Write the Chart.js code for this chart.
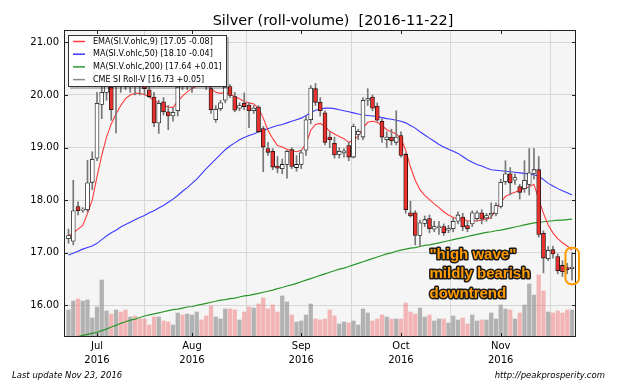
<!DOCTYPE html>
<html>
<head>
<meta charset="utf-8">
<script src="https://cdn.jsdelivr.net/npm/chart.js@4"></script>
<style>
  html, body { margin: 0; padding: 0; background: #fff; }
</style>
</head>
<body>
<canvas id="silverChart" width="640" height="384"></canvas>
<script>
// trading days shown on the chart
const dates = [
  '2016-06-23','2016-06-24','2016-06-27','2016-06-28','2016-06-29','2016-06-30',
  '2016-07-01','2016-07-05','2016-07-06','2016-07-07','2016-07-08','2016-07-11','2016-07-12','2016-07-13','2016-07-14','2016-07-15',
  '2016-07-18','2016-07-19','2016-07-20','2016-07-21','2016-07-22','2016-07-25','2016-07-26','2016-07-27','2016-07-28','2016-07-29',
  '2016-08-01','2016-08-02','2016-08-03','2016-08-04','2016-08-05','2016-08-08','2016-08-09','2016-08-10','2016-08-11','2016-08-12',
  '2016-08-15','2016-08-16','2016-08-17','2016-08-18','2016-08-19','2016-08-22','2016-08-23','2016-08-24','2016-08-25','2016-08-26',
  '2016-08-29','2016-08-30','2016-08-31',
  '2016-09-01','2016-09-02','2016-09-06','2016-09-07','2016-09-08','2016-09-09','2016-09-12','2016-09-13','2016-09-14','2016-09-15',
  '2016-09-16','2016-09-19','2016-09-20','2016-09-21','2016-09-22','2016-09-23','2016-09-26','2016-09-27','2016-09-28','2016-09-29','2016-09-30',
  '2016-10-03','2016-10-04','2016-10-05','2016-10-06','2016-10-07','2016-10-10','2016-10-11','2016-10-12','2016-10-13','2016-10-14',
  '2016-10-17','2016-10-18','2016-10-19','2016-10-20','2016-10-21','2016-10-24','2016-10-25','2016-10-26','2016-10-27','2016-10-28','2016-10-31',
  '2016-11-01','2016-11-02','2016-11-03','2016-11-04','2016-11-07','2016-11-08','2016-11-09','2016-11-10','2016-11-11',
  '2016-11-14','2016-11-15','2016-11-16','2016-11-17','2016-11-18','2016-11-21','2016-11-22'
];

const opens = [
  17.27, 17.22, 17.88, 17.81, 17.82, 18.34, 18.80, 19.82, 20.05, 20.15,
  20.20, 20.60, 20.55, 20.20, 20.40, 20.30, 20.20, 20.10, 19.96, 19.47,
  19.87, 19.68, 19.60, 19.70, 20.30, 20.25, 20.50, 20.60, 20.75, 20.50,
  20.12, 19.53, 19.74, 19.90, 20.16, 19.97, 19.75, 19.84, 19.81, 19.70,
  19.77, 19.36, 18.98, 18.93, 18.65, 18.60, 18.68, 18.96, 18.62, 18.68,
  18.95, 19.53, 20.12, 19.86, 19.66, 19.20, 19.08, 18.87, 18.90, 19.04,
  18.82, 19.25, 19.20, 19.90, 19.96, 19.79, 19.50, 19.15, 19.20, 19.10,
  19.23, 18.87, 17.76, 17.76, 17.33, 17.56, 17.65, 17.45, 17.48, 17.50,
  17.43, 17.46, 17.60, 17.68, 17.52, 17.55, 17.65, 17.76, 17.66, 17.72,
  17.75, 17.88, 18.35, 18.50, 18.38, 18.26, 18.22, 18.30, 18.51, 18.58,
  17.37, 16.89, 17.06, 16.93, 16.76, 16.72, 16.70
];
const highs = [
  17.45, 18.38, 17.97, 17.86, 18.76, 18.92, 20.05, 20.90, 20.55, 20.30,
  20.50, 20.75, 20.70, 20.45, 20.50, 20.35, 20.28, 20.15, 20.05, 19.90,
  19.95, 19.80, 19.75, 20.30, 20.50, 20.60, 20.70, 20.85, 20.80, 20.55,
  20.25, 19.80, 19.90, 20.30, 20.20, 20.05, 19.85, 20.04, 19.85, 19.80,
  19.80, 19.40, 19.10, 18.98, 18.83, 18.78, 18.95, 19.00, 18.85, 18.95,
  19.60, 20.18, 20.22, 19.95, 19.70, 19.30, 19.20, 19.00, 18.98, 19.10,
  19.45, 19.35, 19.95, 20.12, 20.00, 19.85, 19.55, 19.30, 19.35, 19.70,
  19.30, 18.90, 17.98, 17.80, 17.62, 17.70, 17.72, 17.60, 17.60, 17.55,
  17.52, 17.66, 17.78, 17.75, 17.60, 17.80, 17.80, 17.82, 17.75, 17.95,
  17.95, 18.40, 18.75, 18.62, 18.50, 18.30, 18.75, 18.98, 18.98, 18.83,
  17.42, 17.12, 17.13, 16.98, 16.85, 16.80, 17.00
];
const lows = [
  17.18, 17.15, 17.72, 17.77, 17.78, 18.20, 18.75, 19.55, 19.90, 19.52,
  19.28, 20.05, 20.10, 20.05, 20.00, 20.00, 20.00, 19.95, 19.40, 19.27,
  19.62, 19.34, 19.50, 19.60, 20.10, 20.10, 20.05, 20.30, 20.30, 20.10,
  19.65, 19.48, 19.70, 19.85, 19.95, 19.68, 19.70, 19.72, 19.38, 19.65,
  19.28, 18.54, 18.85, 18.58, 18.52, 18.50, 18.42, 18.60, 18.55, 18.60,
  18.85, 19.45, 19.80, 19.60, 19.05, 19.00, 18.80, 18.80, 18.82, 18.75,
  18.80, 19.15, 19.15, 19.80, 19.70, 19.50, 19.10, 19.00, 19.05, 19.05,
  18.82, 17.75, 17.68, 17.15, 17.12, 17.50, 17.38, 17.40, 17.35, 17.33,
  17.38, 17.40, 17.55, 17.42, 17.40, 17.50, 17.60, 17.55, 17.60, 17.65,
  17.70, 17.85, 18.30, 18.10, 18.30, 18.02, 18.15, 18.10, 18.40, 17.30,
  16.62, 16.85, 16.90, 16.60, 16.55, 16.60, 16.48
];
const closes = [
  17.33, 17.80, 17.80, 17.83, 18.33, 18.78, 19.84, 20.05, 20.45, 19.72,
  20.35, 20.40, 20.30, 20.35, 20.20, 20.18, 20.12, 19.97, 19.47, 19.84,
  19.68, 19.60, 19.67, 20.15, 20.25, 20.50, 20.60, 20.75, 20.50, 20.20,
  19.72, 19.73, 19.85, 20.15, 19.99, 19.71, 19.80, 19.78, 19.70, 19.75,
  19.30, 19.01, 18.91, 18.63, 18.61, 18.68, 18.93, 18.64, 18.68, 18.90,
  19.53, 20.13, 19.86, 19.70, 19.10, 19.15, 18.86, 18.93, 18.94, 18.82,
  19.40, 19.31, 19.90, 19.93, 19.75, 19.52, 19.20, 19.20, 19.13, 19.20,
  18.85, 17.82, 17.70, 17.33, 17.57, 17.63, 17.46, 17.50, 17.49, 17.38,
  17.46, 17.60, 17.72, 17.49, 17.46, 17.76, 17.76, 17.64, 17.71, 17.75,
  17.90, 18.34, 18.50, 18.33, 18.43, 18.15, 18.38, 18.52, 18.58, 17.35,
  16.90, 17.05, 16.98, 16.66, 16.64, 16.68, 16.73
];
// roll volume, thousands of contracts (relative)
const volumes = [
  27, 36, 38, 36, 37, 19, 30, 57, 26, 23,
  27, 25, 27, 20, 21, 18, 18, 12, 20, 20,
  16, 15, 12, 24, 22, 23, 22, 25, 17, 21,
  31, 20, 18, 28, 28, 27, 17, 25, 30, 29,
  33, 39, 28, 32, 25, 41, 35, 22, 15, 16,
  22, 33, 18, 17, 18, 27, 21, 13, 15, 14,
  16, 12, 28, 24, 16, 18, 22, 20, 18, 18,
  18, 34, 25, 23, 29, 20, 22, 16, 18, 18,
  14, 21, 17, 19, 13, 22, 16, 17, 17, 24,
  18, 32, 28, 27, 18, 24, 32, 53, 42, 62,
  46, 25, 24, 26, 24, 27, 27
];
const ema9 = [
  17.32, 17.38, 17.45, 17.52, 17.75, 18.00, 18.45, 18.85, 19.20, 19.45,
  19.64, 19.80, 19.93, 20.00, 20.03, 20.03, 20.01, 19.96, 19.90, 19.85,
  19.80, 19.77, 19.76, 19.88, 19.98, 20.06, 20.12, 20.17, 20.20, 20.20,
  20.12, 20.05, 20.03, 20.05, 20.01, 19.97, 19.93, 19.87, 19.85, 19.83,
  19.75, 19.56, 19.33, 19.17, 19.04, 19.01, 18.97, 18.94, 18.92, 18.95,
  19.07, 19.33, 19.44, 19.46, 19.40, 19.31, 19.26, 19.21, 19.17, 19.10,
  19.14, 19.22, 19.37, 19.48, 19.50, 19.48, 19.42, 19.34, 19.30, 19.26,
  19.17, 18.95, 18.63, 18.38, 18.20, 18.09, 18.01, 17.93, 17.86, 17.78,
  17.72, 17.67, 17.65, 17.64, 17.61, 17.60, 17.61, 17.62, 17.64, 17.67,
  17.84, 17.96, 18.07, 18.12, 18.15, 18.19, 18.22, 18.26, 18.30, 18.02,
  17.75, 17.53, 17.38, 17.27, 17.19, 17.13, 17.05
];
const ma50 = [
  16.96, 16.99, 17.03, 17.07, 17.10, 17.13, 17.18, 17.25, 17.32, 17.38,
  17.43, 17.49, 17.54, 17.58, 17.63, 17.67, 17.71, 17.76, 17.80, 17.85,
  17.90, 17.96, 18.02, 18.09, 18.17, 18.24, 18.32, 18.40, 18.50, 18.60,
  18.69, 18.78, 18.87, 18.96, 19.03, 19.09, 19.15, 19.19, 19.23, 19.26,
  19.30, 19.33, 19.36, 19.39, 19.42, 19.44, 19.47, 19.50, 19.53, 19.56,
  19.61, 19.66, 19.71, 19.73, 19.75, 19.75, 19.74, 19.72, 19.70, 19.68,
  19.66, 19.64, 19.62, 19.61, 19.60, 19.59, 19.57, 19.55, 19.54, 19.52,
  19.50, 19.47, 19.42, 19.37, 19.30, 19.24, 19.18, 19.12, 19.06, 19.01,
  18.97, 18.93, 18.89, 18.83, 18.77, 18.72, 18.68, 18.65, 18.61, 18.58,
  18.57, 18.56, 18.55, 18.54, 18.53, 18.52, 18.51, 18.50, 18.48, 18.46,
  18.39, 18.32, 18.27, 18.22, 18.18, 18.14, 18.10
];
const ma200 = [
  15.37, 15.39, 15.41, 15.43, 15.45, 15.47, 15.49, 15.52, 15.55, 15.59,
  15.62, 15.66, 15.69, 15.72, 15.74, 15.77, 15.80, 15.82, 15.84, 15.86,
  15.88, 15.90, 15.92, 15.93, 15.95, 15.97, 15.98, 16.00, 16.02, 16.04,
  16.06, 16.08, 16.10, 16.11, 16.13, 16.14, 16.16, 16.18, 16.19, 16.21,
  16.23, 16.25, 16.27, 16.29, 16.32, 16.34, 16.37, 16.39, 16.42, 16.45,
  16.48, 16.51, 16.54, 16.57, 16.60, 16.63, 16.66, 16.69, 16.71, 16.74,
  16.77, 16.80, 16.83, 16.86, 16.89, 16.92, 16.95, 16.98, 17.00, 17.03,
  17.05, 17.07, 17.09, 17.10, 17.12, 17.14, 17.15, 17.17, 17.19, 17.21,
  17.23, 17.25, 17.27, 17.29, 17.31, 17.33, 17.35, 17.37, 17.39, 17.40,
  17.42, 17.43, 17.45, 17.47, 17.49, 17.51, 17.53, 17.55, 17.57, 17.58,
  17.59, 17.60, 17.61, 17.62, 17.62, 17.63, 17.64
];

const priceTicks = [16, 17, 18, 19, 20, 21];
const monthNames = ['Jan','Feb','Mar','Apr','May','Jun','Jul','Aug','Sep','Oct','Nov','Dec'];
const legendLabels = [
  'EMA(SI.V.ohlc,9) [17.05 -0.08]',
  'MA(SI.V.ohlc,50) [18.10 -0.04]',
  'MA(SI.V.ohlc,200) [17.64 +0.01]',
  'CME SI Roll-V [16.73 +0.05]'
];
const chartTitle = 'Silver (roll-volume)  [2016-11-22]';
const noteLines = ['"high wave"', 'mildly bearish', 'downtrend'];
const footerLeft = 'Last update Nov 23, 2016';
const footerRight = 'http://peakprosperity.com';

// first trading day of every month becomes an x tick
const monthStarts = dates
  .map((d, i) => i)
  .filter(i => i > 0 && dates[i].slice(5, 7) !== dates[i - 1].slice(5, 7));

const colors = {
  ema: '#ff3a3a',
  ma50: '#3a3aff',
  ma200: '#2a962a',
  candle: '#8a8a8a',
  down: '#e8302c',
  up: '#ffffff',
  volUp: 'rgba(150,150,150,0.7)',
  volDown: 'rgba(240,120,120,0.52)',
  grid: '#d6d6d6',
  note: '#ff9a00'
};

const xs = dates.map((d, i) => i);
const isDown = xs.map(i => closes[i] < opens[i]);

const decor = {
  id: 'decor',
  beforeDraw(chart) {
    const { ctx, chartArea: a } = chart;
    ctx.save();
    ctx.fillStyle = '#ffffff';
    ctx.fillRect(0, 0, chart.width, chart.height);
    ctx.fillStyle = '#f5f5f5';
    ctx.fillRect(a.left, a.top, a.right - a.left, a.bottom - a.top);
    ctx.restore();
  },
  afterDraw(chart) {
    const { ctx, chartArea: a, scales } = chart;
    ctx.save();

    // frame + inward ticks
    ctx.strokeStyle = '#222';
    ctx.lineWidth = 1;
    ctx.strokeRect(a.left + 0.5, a.top + 0.5, a.right - a.left - 1, a.bottom - a.top - 1);
    ctx.beginPath();
    priceTicks.forEach(v => {
      const py = Math.round(scales.y.getPixelForValue(v)) + 0.5;
      ctx.moveTo(a.left, py); ctx.lineTo(a.left + 4, py);
      ctx.moveTo(a.right - 4, py); ctx.lineTo(a.right, py);
    });
    monthStarts.forEach(v => {
      const px = Math.round(scales.x.getPixelForValue(v)) + 0.5;
      ctx.moveTo(px, a.bottom); ctx.lineTo(px, a.bottom - 4);
      ctx.moveTo(px, a.top); ctx.lineTo(px, a.top + 4);
    });
    ctx.stroke();

    // title
    ctx.fillStyle = '#000';
    ctx.font = '14.4px "DejaVu Sans"';
    ctx.textAlign = 'center';
    ctx.textBaseline = 'alphabetic';
    ctx.fillText(chartTitle, 333, 25);

    // legend box
    const lx = 68, ly = 35, lw = 159, lh = 52;
    ctx.fillStyle = 'rgba(0,0,0,0.25)';
    ctx.fillRect(lx + 2, ly + 2, lw, lh);
    ctx.fillStyle = '#fff';
    ctx.fillRect(lx, ly, lw, lh);
    ctx.strokeStyle = '#333';
    ctx.strokeRect(lx + 0.5, ly + 0.5, lw - 1, lh - 1);
    const legendColors = [colors.ema, colors.ma50, colors.ma200, colors.candle];
    ctx.font = '8px "DejaVu Sans"';
    ctx.textAlign = 'left';
    ctx.textBaseline = 'middle';
    legendLabels.forEach((t, k) => {
      const ry = ly + 6.5 + k * 12.7;
      ctx.strokeStyle = legendColors[k];
      ctx.lineWidth = 1.5;
      ctx.beginPath();
      ctx.moveTo(lx + 5, ry); ctx.lineTo(lx + 17, ry);
      ctx.stroke();
      ctx.fillStyle = '#000';
      ctx.fillText(t, lx + 25, ry);
    });

    // annotation
    ctx.font = 'bold 15px "Liberation Sans", Arial, sans-serif';
    ctx.textBaseline = 'alphabetic';
    ctx.lineJoin = 'round';
    const baselines = [258.5, 278, 297.5];
    noteLines.forEach((t, k) => {
      ctx.strokeStyle = '#1a1a1a';
      ctx.lineWidth = 3;
      ctx.strokeText(t, 429.5, baselines[k]);
      ctx.fillStyle = colors.note;
      ctx.fillText(t, 429.5, baselines[k]);
    });
    const last = xs.length - 1;
    const cx = scales.x.getPixelForValue(last);
    const top = scales.y.getPixelForValue(highs[last]) - 5;
    const bot = scales.y.getPixelForValue(lows[last]) + 4;
    ctx.strokeStyle = colors.note;
    ctx.lineWidth = 2;
    ctx.beginPath();
    ctx.roundRect(cx - 6.5, top, 13.5, bot - top, 6);
    ctx.stroke();

    // footer
    ctx.fillStyle = '#000';
    ctx.font = 'italic 8.5px "DejaVu Sans"';
    ctx.textAlign = 'left';
    ctx.fillText(footerLeft, 12, 378);
    ctx.textAlign = 'right';
    ctx.fillText(footerRight, 605, 378);
    ctx.restore();
  }
};

new Chart(document.getElementById('silverChart'), {
  type: 'bar',
  data: {
    datasets: [
      {
        type: 'line', label: legendLabels[0], order: 1,
        data: xs.map(i => ({ x: i, y: ema9[i] })),
        borderColor: colors.ema, borderWidth: 1.1, pointRadius: 0, yAxisID: 'y'
      },
      {
        type: 'line', label: legendLabels[1], order: 2,
        data: xs.map(i => ({ x: i, y: ma50[i] })),
        borderColor: colors.ma50, borderWidth: 1.1, pointRadius: 0, yAxisID: 'y'
      },
      {
        type: 'line', label: legendLabels[2], order: 3,
        data: xs.map(i => ({ x: i, y: ma200[i] })),
        borderColor: colors.ma200, borderWidth: 1.2, pointRadius: 0, yAxisID: 'y'
      },
      {
        // candle bodies
        label: legendLabels[3], order: 0, grouped: false,
        data: xs.map(i => ({ x: i, y: [opens[i], closes[i]] })),
        backgroundColor: xs.map(i => isDown[i] ? colors.down : colors.up),
        borderColor: '#111', borderWidth: 0.8, borderSkipped: false,
        barThickness: 4, minBarLength: 1, yAxisID: 'y'
      },
      {
        // high-low wicks
        label: 'wicks', order: 0.5, grouped: false,
        data: xs.map(i => ({ x: i, y: [lows[i], highs[i]] })),
        backgroundColor: '#777', barThickness: 1, yAxisID: 'y'
      },
      {
        label: 'volume', order: 5, grouped: false,
        data: xs.map(i => ({ x: i, y: volumes[i] })),
        backgroundColor: xs.map(i => isDown[i] ? colors.volDown : colors.volUp),
        barThickness: 3.6, yAxisID: 'yv'
      }
    ]
  },
  options: {
    responsive: false,
    animation: false,
    layout: { padding: { left: 0, top: 30, right: 64, bottom: 0 } },
    plugins: {
      legend: { display: false },
      title: { display: false },
      tooltip: { enabled: false }
    },
    scales: {
      x: {
        type: 'linear',
        min: -0.95,
        max: 106.85,
        offset: false,
        afterBuildTicks: s => { s.ticks = monthStarts.map(v => ({ value: v })); },
        afterFit: s => { s.height = 47; },
        border: { display: false },
        grid: { color: colors.grid, drawTicks: false },
        ticks: {
          autoSkip: false, maxRotation: 0, padding: 3, color: '#000',
          font: { family: 'DejaVu Sans', size: 10, lineHeight: 1.33 },
          callback: v => [monthNames[+dates[v].slice(5, 7) - 1], dates[v].slice(0, 4)]
        }
      },
      y: {
        min: 15.4,
        max: 21.235,
        afterBuildTicks: s => { s.ticks = priceTicks.map(v => ({ value: v })); },
        afterFit: s => { s.width = 64; },
        border: { display: false },
        grid: { color: colors.grid, drawTicks: false },
        ticks: {
          padding: 5, color: '#000',
          font: { family: 'DejaVu Sans', size: 10 },
          callback: v => v.toFixed(2)
        }
      },
      yv: { display: false, position: 'right', min: 0, max: 307 }
    }
  },
  plugins: [decor]
});
</script>
</body>
</html>
